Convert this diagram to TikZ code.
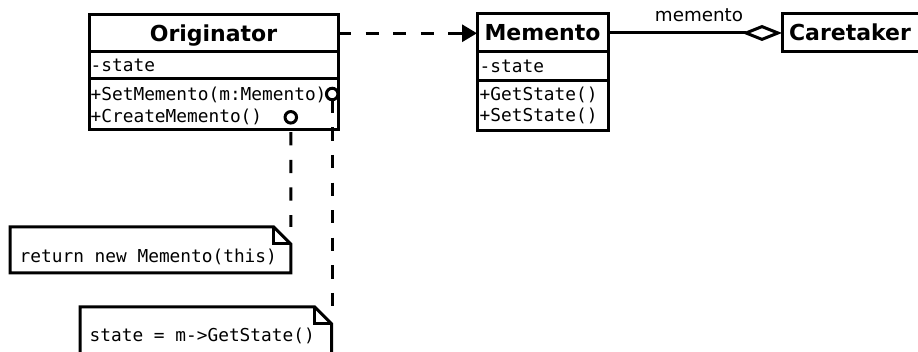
\documentclass[tikz,border=0pt]{standalone}
\usepackage{fontspec}
\setmainfont{DejaVu Sans}
\newfontfamily\monof{DejaVu Sans Mono}
\usetikzlibrary{arrows.meta}
\tikzset{
 ln/.style={line width=3pt},
 box/.style={draw, ln, inner sep=0pt, outer sep=0pt, anchor=north west},
 hdr/.style={box, font=\fontsize{22}{24}\selectfont\bfseries, text height=16pt, text depth=0pt},
 mono/.style={font=\monof\fontsize{17.8}{22}\selectfont, inner sep=0pt, anchor=base west},
 lbl/.style={font=\fontsize{18.3}{22}\selectfont, inner sep=0pt},
 dsh/.style={ln, dash pattern=on 13.2pt off 14.4pt},
 port/.style={circle, draw, ln, fill=white, minimum size=11.5pt, inner sep=0pt, outer sep=0pt},
 notebody/.style={inner sep=0pt, outer sep=0pt, anchor=north west},
 noteline/.style={ln, line join=miter},
}
\begin{document}
\begin{tikzpicture}[x=1pt,y=-1pt]
\useasboundingbox (0,0) rectangle (918,352);
\fill[white] (0,0) rectangle (918,352);
\clip (0,0) rectangle (918,352);

% Originator
\node[hdr, minimum width=249pt, minimum height=36.5pt] (origH) at (89,15) {Originator};
\node[box, minimum width=249pt, minimum height=27.5pt] (origS) at (origH.south west) {};
\node[box, minimum width=249pt, minimum height=51pt] (origM) at (origS.south west) {};
\node[mono] (origA) at (90.5,72) {-state};
\node[mono] (origO1) at (90.5,100.3) {+SetMemento(m:Memento)};
\node[mono] (origO2) at (90.5,122.3) {+CreateMemento()};

% Memento
\node[hdr, minimum width=131pt, minimum height=38pt] (memH) at (477,14) {Memento};
\node[box, minimum width=131pt, minimum height=28.5pt] (memS) at (memH.south west) {};
\node[box, minimum width=131pt, minimum height=50pt] (memM) at (memS.south west) {};
\node[mono] (memA) at (479.5,72.5) {-state};
\node[mono] (memO1) at (479.5,100.5) {+GetState()};
\node[mono] (memO2) at (479.5,121.5) {+SetState()};

% Caretaker
\node[hdr, minimum width=143pt, minimum height=38pt, text width=129pt, inner xsep=7pt, align=left] (careH) at (782,14) {Caretaker};

% connectors between classes
\draw[dsh, -{Triangle[length=15pt,width=17pt]}] (origH.east) -- (origH.east -| memH.west);
\draw[ln, -{Diamond[open, length=40pt, width=16pt]}] (memH.east) -- (careH.west);
\node[lbl, anchor=base] (assocL) at (699,21.5) {memento};

% notes
\node[notebody, minimum width=280.8pt, minimum height=46pt] (note1) at (10,227) {};
\draw[noteline] (note1.north west) -- ([xshift=-17pt]note1.north east) -- ([yshift=-17pt]note1.north east) -- (note1.south east) -- (note1.south west) -- cycle;
\draw[noteline] ([xshift=-17pt]note1.north east) |- ([yshift=-17pt]note1.north east);
\node[mono] (note1T) at (19.5,263) {return new Memento(this)};

\node[notebody, minimum width=251.7pt, minimum height=60pt] (note2) at (80,307) {};
\draw[noteline] (note2.north west) -- ([xshift=-17pt]note2.north east) -- ([yshift=-17pt]note2.north east) -- (note2.south east) -- (note2.south west) -- cycle;
\draw[noteline] ([xshift=-17pt]note2.north east) |- ([yshift=-17pt]note2.north east);
\node[mono] (note2T) at (89.5,342) {state = m->GetState()};

% ports and note links
\node[port] (pSet) at (332.2,94) {};
\node[port] (pCreate) at (290.8,117.3) {};
\draw[dsh] (pSet.south) -- (pSet.south |- note2.north east);
\draw[dsh, dash phase=18.4pt] (pCreate.south) -- (note1.north east);
\end{tikzpicture}
\end{document}
